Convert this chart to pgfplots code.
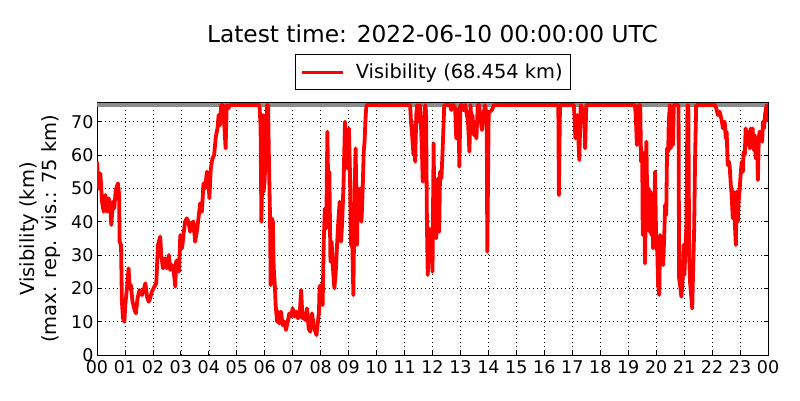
\documentclass[border=0pt]{standalone}
\usepackage{fontspec}
\setmainfont{DejaVu Sans}
\usepackage{pgfplots}
\pgfplotsset{compat=1.18}
\definecolor{maxvis}{rgb}{0.55,0.55,0.55}
\begin{document}
\begin{tikzpicture}
\path[use as bounding box] (0pt,0pt) rectangle (800pt,400pt);
\begin{axis}[
  at={(97pt,45pt)}, anchor=south west,
  scale only axis, width=671pt, height=252.3pt,
  xmin=0, xmax=24, ymin=0, ymax=75.7,
  xtick={0,...,24},
  xticklabels={00,01,02,03,04,05,06,07,08,09,10,11,12,13,14,15,16,17,18,19,20,21,22,23,00},
  ytick={0,10,...,70},
  grid=major,
  grid style={black, line width=0.6pt, dash pattern=on 1pt off 3pt},
  axis line style={black, line width=1pt},
  tick align=inside, major tick length=4pt,
  tick style={black, line width=0.8pt},
  tick label style={font=\fontsize{17.5}{20}\selectfont},
  xticklabel style={yshift=-2pt},
  /pgf/number format/assume math mode=true,
  ylabel={Visibility (km)\\(max. rep. vis.: 75 km)},
  ylabel style={align=center, font=\fontsize{19.5}{22.5}\selectfont,
    at={(axis description cs:-0.085,0.5)}, anchor=center},
  legend style={at={(0.5,1)}, anchor=south, yshift=12.7pt, draw=black,
    line width=0.8pt, font=\fontsize{19.4}{23}\selectfont,
    inner xsep=5.5pt, inner ysep=7.3pt},
  legend image code/.code={%
    \draw[#1, line width=2.8pt] (0pt,0pt) -- (41pt,0pt);
    \path[draw=none] (52pt,0pt);},
]
% maximum reported visibility
\addplot[maxvis, line width=3.3pt, forget plot] coordinates {(0,75) (24,75)};

% visibility series (hours, km)
\addplot[red, line width=3.8pt, line join=round] coordinates {
(0.00,58) (0.03,54) (0.06,50) (0.12,54.5) (0.18,46) (0.24,43) (0.30,48) (0.36,43)
(0.42,47) (0.48,44) (0.51,39) (0.57,46) (0.62,44) (0.67,49.5) (0.75,51.5) (0.79,48)
(0.81,34) (0.86,33) (0.89,16) (0.93,11) (0.98,10) (1.01,15) (1.07,20) (1.13,26)
(1.17,20) (1.21,21) (1.27,16) (1.33,14) (1.39,12.5) (1.45,17) (1.52,19.5) (1.61,18)
(1.67,19.5) (1.73,21.5) (1.79,17.5) (1.85,16) (1.90,17) (1.96,19) (2.05,20.5) (2.12,21.5)
(2.18,33) (2.26,35.5) (2.30,30) (2.36,26) (2.44,29) (2.50,26) (2.57,30) (2.62,25.5)
(2.68,27) (2.74,25.5) (2.80,20.5) (2.83,28) (2.88,28.5) (2.93,25) (2.98,36) (3.04,32)
(3.10,36.5) (3.15,40) (3.21,41) (3.27,40) (3.33,37) (3.39,39.5) (3.45,40) (3.51,34)
(3.57,37) (3.63,41) (3.69,45.5) (3.75,43) (3.81,51.5) (3.87,50) (3.93,55) (3.99,52)
(4.02,47) (4.07,56) (4.13,59) (4.19,60) (4.25,65.5) (4.31,68) (4.35,72) (4.40,69)
(4.44,75) (4.50,75) (4.56,68) (4.60,62) (4.64,75) (4.70,74) (4.76,75)
(5.79,75) (5.81,75) (5.85,69) (5.88,40) (5.92,58) (5.94,72) (5.96,49) (6.00,53)
(6.04,66) (6.08,75) (6.12,75) (6.15,58) (6.19,41) (6.21,21) (6.25,41) (6.29,40)
(6.32,26) (6.36,21) (6.39,15) (6.44,10) (6.48,13) (6.52,9.5) (6.58,13) (6.64,9)
(6.70,10) (6.76,7.5) (6.82,10) (6.88,12.5) (6.94,11.5) (7.00,14) (7.06,11.5) (7.13,13)
(7.19,11) (7.25,12) (7.30,19.5) (7.35,11) (7.39,12) (7.45,10.5) (7.51,14) (7.57,8)
(7.63,7) (7.69,12.5) (7.75,9) (7.81,7) (7.85,6) (7.89,9) (7.94,13) (7.96,20.5)
(8.02,21) (8.07,15) (8.11,34) (8.15,44) (8.20,38) (8.24,67) (8.27,50) (8.31,55)
(8.35,28) (8.39,34) (8.44,26) (8.49,20) (8.54,25) (8.58,32) (8.63,40) (8.68,46)
(8.73,34) (8.77,40) (8.82,52) (8.87,70) (8.92,60) (8.96,56) (9.01,68) (9.05,54)
(9.08,33) (9.13,34) (9.17,18) (9.21,48) (9.25,62) (9.30,33) (9.33,50) (9.38,45)
(9.42,50) (9.46,40) (9.50,49) (9.54,61) (9.57,64) (9.61,72) (9.64,75)
(11.20,75) (11.23,70) (11.27,66) (11.32,60) (11.35,69) (11.38,58) (11.42,72) (11.45,75)
(11.50,70) (11.56,75) (11.62,62) (11.65,52) (11.70,68) (11.74,75) (11.77,73) (11.80,40)
(11.83,24) (11.88,38) (11.92,30) (11.96,36) (12.00,25) (12.04,63.5) (12.07,38) (12.10,43)
(12.13,35) (12.17,40) (12.20,53) (12.24,37) (12.27,55) (12.32,53) (12.36,61) (12.39,68)
(12.42,75) (12.63,75) (12.67,73.5) (12.71,75) (12.75,75) (12.81,74) (12.85,65) (12.89,65)
(12.93,74) (12.96,56.5) (13.00,75) (13.06,75) (13.11,73.5) (13.17,75) (13.23,72) (13.27,70)
(13.32,61) (13.36,75) (13.39,70) (13.43,72) (13.48,66) (13.52,68) (13.57,65) (13.62,75)
(13.67,75) (13.70,72) (13.77,67.5) (13.82,72) (13.88,75) (13.94,72) (13.96,31) (14.01,73)
(14.06,73) (14.12,73.5) (14.20,75) (16.50,75) (16.52,48) (16.56,75) (17.06,75) (17.11,65)
(17.18,72) (17.25,58.5) (17.30,75) (17.42,73) (17.46,62) (17.50,75)
(19.24,75) (19.27,72) (19.31,63) (19.35,69) (19.39,75) (19.43,75) (19.46,58) (19.50,61)
(19.52,36) (19.56,55) (19.60,27.5) (19.63,45) (19.65,64) (19.69,40) (19.73,50) (19.76,37)
(19.80,49) (19.83,36) (19.87,45) (19.89,32) (19.93,40) (19.96,55) (20.00,34) (20.04,31)
(20.07,21) (20.11,18) (20.14,36) (20.18,30) (20.21,34) (20.25,27) (20.29,36) (20.32,45)
(20.36,42) (20.39,62) (20.43,61) (20.45,70) (20.49,75) (20.52,62) (20.56,74) (20.60,63)
(20.63,75) (20.80,75) (20.82,23) (20.87,20) (20.90,17.5) (20.94,21) (20.98,33) (21.01,24)
(21.05,33) (21.08,38) (21.12,75) (21.15,75) (21.18,30) (21.21,22) (21.25,18) (21.29,14)
(21.32,25) (21.36,38) (21.39,58) (21.43,75) (22.10,75) (22.15,74) (22.21,72) (22.27,73)
(22.33,71) (22.39,68) (22.45,70) (22.49,65) (22.52,67) (22.56,57) (22.60,58) (22.63,56.5)
(22.67,51) (22.70,48) (22.74,41) (22.77,49) (22.81,40) (22.85,33) (22.88,49) (22.92,40)
(22.95,46) (22.99,50) (23.02,54) (23.06,58) (23.10,55) (23.13,61) (23.17,60) (23.20,68)
(23.24,63) (23.27,67) (23.31,65) (23.35,62) (23.38,68) (23.42,63) (23.45,68) (23.49,61.5)
(23.52,66) (23.56,59) (23.60,65) (23.64,52.5) (23.67,65) (23.70,67) (23.75,66) (23.79,64)
(23.82,70) (23.86,68) (23.89,72) (23.93,74) (23.96,75) (24.00,70)
};
\addlegendentry{Visibility (68.454 km)}
\end{axis}
\node[font=\fontsize{23.3}{28}\selectfont, anchor=base] at (432.5pt,357.7pt)
  {Latest time: 2022-06-10 00:00:00 UTC};
\end{tikzpicture}
\end{document}
